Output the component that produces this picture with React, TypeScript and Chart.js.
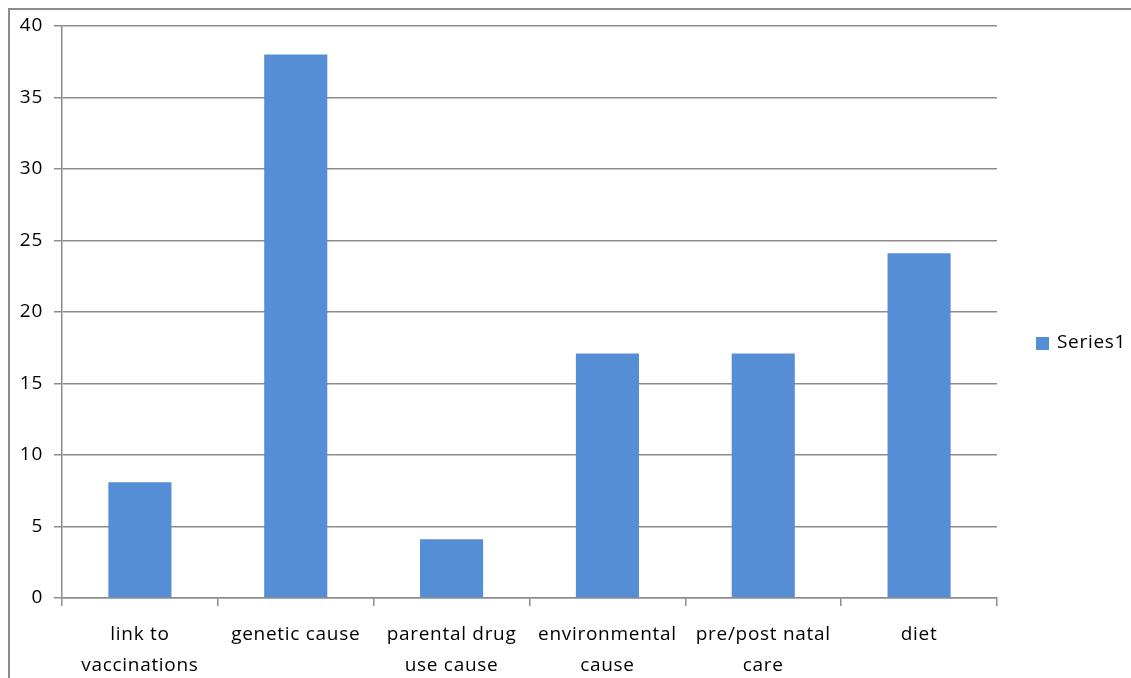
import React, { useEffect, useRef } from "react";
import { Chart, registerables } from "chart.js";

Chart.register(...registerables);

const categories: string[][] = [
  ["link to", "vaccinations"],
  ["genetic cause"],
  ["parental drug", "use cause"],
  ["environmental", "cause"],
  ["pre/post natal", "care"],
  ["diet"],
];
const seriesName = "Series1";
const seriesValues = [8.1, 38, 4.1, 17.1, 17.1, 24.1];
const yTicks = [0, 5, 10, 15, 20, 25, 30, 35, 40];

const FONT = "'Open Sans', 'Noto Sans', sans-serif";
const FONT_SIZE = 19;
const GRID = "#8c8c8c";
const BAR = "#558ed5";

// Slightly open letter spacing for all canvas text
const spacing = {
  id: "spacing",
  beforeDraw(chart: Chart) {
    (chart.ctx as any).letterSpacing = "0.7px";
  },
};

// Legend drawn to the right of the plot area
const sideLegend = {
  id: "sideLegend",
  afterDraw(chart: Chart) {
    const ctx = chart.ctx;
    const ds = chart.data.datasets[0];
    const y = 343;
    ctx.save();
    (ctx as any).letterSpacing = "0.7px";
    ctx.fillStyle = BAR;
    ctx.fillRect(1036, y - 6, 13, 13);
    ctx.fillStyle = "#000";
    ctx.font = `${FONT_SIZE}px ${FONT}`;
    ctx.textAlign = "left";
    ctx.textBaseline = "middle";
    ctx.fillText(String(ds.label), 1057, y);
    ctx.restore();
  },
};

export default function App() {
  const ref = useRef<HTMLCanvasElement>(null);

  useEffect(() => {
    if (!ref.current) return;
    const chart = new Chart(ref.current, {
      type: "bar",
      data: {
        labels: categories,
        datasets: [
          {
            label: seriesName,
            data: seriesValues,
            backgroundColor: BAR,
            categoryPercentage: 1,
            barPercentage: 0.405,
          },
        ],
      },
      plugins: [spacing, sideLegend],
      options: {
        animation: false,
        responsive: false,
        maintainAspectRatio: false,
        layout: { padding: { top: 26, right: 134, left: 0, bottom: 0 } },
        plugins: {
          legend: { display: false },
          tooltip: { enabled: false },
        },
        scales: {
          x: {
            offset: true,
            grid: {
              offset: true,
              drawOnChartArea: false,
              drawTicks: true,
              tickLength: 8,
              color: GRID,
              lineWidth: 1.5,
            },
            border: { color: GRID, width: 1.5 },
            ticks: {
              color: "#000",
              font: { family: FONT, size: FONT_SIZE, lineHeight: 1.63 },
              padding: 13,
              maxRotation: 0,
              autoSkip: false,
            },
            afterFit: (s: any) => {
              s.height = 80;
            },
          },
          y: {
            min: 0,
            max: 40,
            afterBuildTicks: (s: any) => {
              s.ticks = yTicks.map((v) => ({ value: v }));
            },
            grid: {
              color: GRID,
              lineWidth: 1.5,
              drawTicks: true,
              tickLength: 8,
            },
            border: { color: GRID, width: 1.5 },
            ticks: {
              color: "#000",
              font: { family: FONT, size: FONT_SIZE },
              padding: 11,
            },
            afterFit: (s: any) => {
              s.width = 62;
            },
          },
        },
      },
    });
    return () => chart.destroy();
  }, []);

  return (
    <div style={{ position: "absolute", left: 0, top: 0, width: 1131, height: 678, background: "#fff" }}>
      <canvas ref={ref} width={1131} height={678} style={{ position: "absolute", left: 0, top: 0 }} />
      <div
        style={{
          position: "absolute",
          left: 8,
          top: 8,
          width: 1123,
          height: 670,
          borderLeft: `2px solid ${GRID}`,
          borderTop: `2px solid ${GRID}`,
          boxSizing: "border-box",
          pointerEvents: "none",
        }}
      />
    </div>
  );
}
